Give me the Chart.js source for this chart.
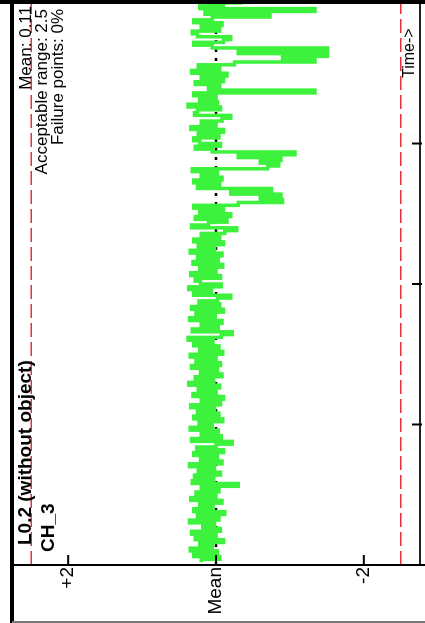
<!DOCTYPE html>
<html lang="en">
<head>
<meta charset="UTF-8">
<title>CH_3 deviation from mean</title>
<script src="https://cdn.jsdelivr.net/npm/chart.js"></script>
<style>
  html, body { margin: 0; padding: 0; background: #fff; overflow: hidden; }
  /* the chart is drawn upright and turned a quarter turn to the left */
  #wrap {
    position: absolute; left: 0; top: 623px;
    width: 623px; height: 425px;
    transform-origin: 0 0; transform: rotate(-90deg);
  }
</style>
</head>
<body>
<div id="wrap"><canvas id="chart" width="623" height="425"></canvas></div>
<script>
// deviation from mean, one value per sample (oldest first)
const deviation = [
  0.20, -0.05, 0.30, -0.02, 0.35, 0.05, 0.22, -0.10, 0.28, 0.00,
  0.33, -0.06, 0.18, 0.02, 0.36, -0.04, 0.25, -0.12, 0.30, 0.04,
  0.22, -0.08, 0.34, 0.00, 0.27, -0.04, 0.20, -0.30, 0.32, 0.03,
  0.29, -0.06, 0.24, 0.02, 0.36, -0.08, 0.21, -0.02, 0.30, -0.10,
  0.26, 0.00, -0.22, 0.33, -0.07, 0.20, -0.03, 0.35, 0.05, 0.23,
  -0.09, 0.30, -0.04, 0.25, 0.02, 0.34, -0.06, 0.20, -0.10, 0.31,
  0.00, 0.24, -0.05, 0.37, 0.03, 0.28, -0.08, 0.21, -0.02, 0.33,
  -0.06, 0.27, 0.00, 0.35, -0.09, 0.22, -0.04, 0.30, 0.04, 0.38,
  -0.07, -0.22, 0.32, -0.03, 0.20, -0.08, 0.36, 0.01, 0.27, -0.10,
  0.33, -0.05, 0.23, -0.02, -0.20, 0.30, 0.06, 0.37, -0.07, 0.21,
  0.28, -0.06, 0.34, 0.00, 0.22, -0.09, 0.31, -0.03, 0.25, -0.08,
  0.35, 0.02, 0.24, -0.10, 0.30, -0.05, 0.20, -0.12, -0.28, 0.33,
  0.10, -0.15, 0.28, -0.20, 0.22, -0.10, 0.30, -0.30, -0.90, -0.60,
  -0.88, -0.20, -0.75, 0.25, -0.05, 0.30, -0.08, 0.20, -0.02, 0.32,
  -0.70, -0.85, -0.60, -0.88, -0.30, -1.07, 0.05, 0.28, -0.06, 0.22,
  0.30, -0.04, 0.24, -0.10, 0.34, 0.00, 0.20, -0.08, -0.20, 0.29,
  0.25, -0.06, 0.38, -0.02, 0.22, 0.00, 0.30, -1.34, 0.10, -0.05,
  0.28, -0.10, 0.20, -0.15, 0.33, -0.05, 0.24, -0.25, -1.34, -0.90,
  -1.51, -0.30, -1.51, 0.05, 0.30, -0.10, -0.20, 0.25, 0.32, -0.05,
  0.20, -0.08, 0.30, 0.05, -0.73, 0.15, -1.34, 0.22, -0.10, -0.36
];

const meanValue = 0.11;
const acceptableRange = 2.5;
const failurePoints = '0%';

const valueTicks = [2, 0, -2];
const valueTickLabels = ['+2', 'Mean', '-2'];
const timeTicks = [50, 100, 150];
const timeSpan = [0, 200];
const valueSpan = [-2.76, 2.76];

const infoLines = [
  'Mean: ' + meanValue,
  'Acceptable range: ' + acceptableRange,
  'Failure points: ' + failurePoints
];

const FONT = '"Liberation Sans", Arial, sans-serif';

const greenPoints = deviation.map((v, i) => ({ x: i + 1, y: v }));
const flatLine = (y) => [{ x: timeSpan[0], y: y }, { x: timeSpan[1], y: y }];

// frame, inward ticks and the texts
const decor = {
  id: 'decor',
  afterDraw(chart) {
    const ctx = chart.ctx;
    const a = chart.chartArea;
    const xs = chart.scales.x;
    const ys = chart.scales.y;
    ctx.save();

    ctx.strokeStyle = '#000';
    ctx.lineWidth = 4;
    ctx.beginPath(); ctx.moveTo(0, a.top); ctx.lineTo(chart.width, a.top); ctx.stroke();
    ctx.beginPath(); ctx.moveTo(a.right + 1, 0); ctx.lineTo(a.right + 1, chart.height); ctx.stroke();

    ctx.strokeStyle = '#777';
    ctx.lineWidth = 2;
    ctx.beginPath(); ctx.moveTo(1, a.top); ctx.lineTo(1, chart.height); ctx.stroke();

    ctx.strokeStyle = '#000';
    ctx.lineWidth = 2;
    ctx.beginPath(); ctx.moveTo(a.left, a.top); ctx.lineTo(a.left, chart.height); ctx.stroke();

    timeTicks.forEach(t => {
      const x = xs.getPixelForValue(t);
      ctx.beginPath(); ctx.moveTo(x, a.bottom + 2); ctx.lineTo(x, a.bottom - 8); ctx.stroke();
    });
    valueTicks.forEach(v => {
      const y = ys.getPixelForValue(v);
      ctx.beginPath(); ctx.moveTo(a.left, y); ctx.lineTo(a.left + 10, y); ctx.stroke();
    });

    ctx.fillStyle = '#000';
    ctx.textBaseline = 'alphabetic';

    ctx.font = '17px ' + FONT;
    ctx.textAlign = 'right';
    ctx.fillText(infoLines[0], 617, 31);
    ctx.fillText(infoLines[1], 614, 47);
    ctx.fillText(infoLines[2], 614, 63);

    ctx.textAlign = 'left';
    ctx.font = 'bold 19px ' + FONT;
    ctx.fillText('L0.2 (without object)', 78, 31);
    ctx.fillText('CH_3', 71, 54);

    ctx.font = '16px ' + FONT;
    ctx.fillText('Time->', 545, 414);

    ctx.restore();
  }
};

new Chart(document.getElementById('chart').getContext('2d'), {
  type: 'line',
  data: {
    datasets: [
      {
        label: 'CH_3',
        data: greenPoints,
        borderColor: '#3cf23c',
        borderWidth: 3.5,
        pointRadius: 0,
        stepped: true,
        order: 0
      },
      {
        label: 'Mean',
        data: flatLine(0),
        borderColor: '#000',
        borderWidth: 2.5,
        borderDash: [3, 6],
        pointRadius: 0,
        order: 1
      },
      {
        label: 'Upper limit',
        data: flatLine(acceptableRange),
        borderColor: '#e8303a',
        borderWidth: 1.5,
        borderDash: [14, 5],
        pointRadius: 0,
        order: 2
      },
      {
        label: 'Lower limit',
        data: flatLine(-acceptableRange),
        borderColor: '#e8303a',
        borderWidth: 1.5,
        borderDash: [14, 5],
        pointRadius: 0,
        order: 2
      }
    ]
  },
  options: {
    responsive: false,
    maintainAspectRatio: false,
    animation: false,
    layout: { padding: { top: 12, right: 3, left: 0, bottom: 0 } },
    plugins: {
      legend: { display: false },
      tooltip: { enabled: false }
    },
    scales: {
      x: {
        type: 'linear',
        min: timeSpan[0],
        max: timeSpan[1],
        afterBuildTicks: (s) => { s.ticks = timeTicks.map(v => ({ value: v })); },
        afterFit: (s) => {
          s.height = 5;
          s.paddingLeft = 0; s.paddingRight = 0;
        },
        ticks: { display: false },
        grid: { display: false },
        border: { display: true, color: '#222', width: 2 }
      },
      y: {
        type: 'linear',
        min: valueSpan[0],
        max: valueSpan[1],
        afterBuildTicks: (s) => { s.ticks = valueTicks.map(v => ({ value: v })); },
        afterFit: (s) => {
          s.width = 58;
          s.paddingTop = 0; s.paddingBottom = 0;
        },
        ticks: {
          padding: 2,
          color: '#000',
          font: { family: FONT, size: 19 },
          callback: (v) => valueTickLabels[valueTicks.indexOf(v)]
        },
        grid: { display: false, drawTicks: false },
        border: { display: true, color: '#000', width: 2 }
      }
    }
  },
  plugins: [decor]
});
</script>
</body>
</html>
